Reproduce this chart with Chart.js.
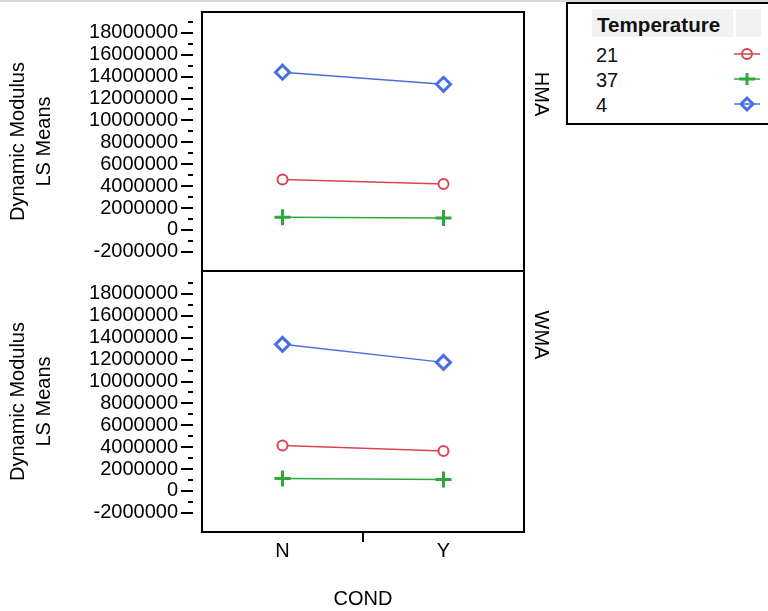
<!DOCTYPE html>
<html>
<head>
<meta charset="utf-8">
<script src="https://cdn.jsdelivr.net/npm/chart.js@4.4.1/dist/chart.umd.min.js"></script>
<style>
body { margin: 0; width: 768px; height: 611px; overflow: hidden; background: #fff; position: relative; }
canvas { position: absolute; left: 0; top: 0; }
#topline { position: absolute; left: 0; top: 0; width: 768px; height: 2px; background: #d9d9d9; }
#leg { position: absolute; left: 560px; top: 0; }
</style>
</head>
<body>
<div id="topline"></div>
<canvas id="c1" width="768" height="611"></canvas>
<canvas id="c2" width="768" height="611"></canvas>
<svg id="leg" width="208" height="130" font-family="Liberation Sans, Arial, sans-serif" font-size="20"></svg>
<script>
// data
var conds = ['N', 'Y'];
var temps = ['21', '37', '4'];
var hma21 = [4600000, 4200000];
var hma37 = [1150000, 1100000];
var hma4 = [14400000, 13300000];
var wma21 = [4150000, 3650000];
var wma37 = [1150000, 1050000];
var wma4 = [13400000, 11750000];
var yTicks = [-2000000, 0, 2000000, 4000000, 6000000, 8000000, 10000000, 12000000, 14000000, 16000000, 18000000];

var colors = ['#d94452', '#2fa83a', '#4a6ee0'];
var styles = ['circle', 'cross', 'rectRot'];
var radii = [5, 8, 7];
var widths = [2, 3, 3];

Chart.defaults.font.family = '"Liberation Sans", Arial, sans-serif';
Chart.defaults.font.size = 20;
Chart.defaults.color = '#000';

function makeSets(series) {
  var out = [];
  for (var i = 0; i < series.length; i++) {
    out.push({
      label: temps[i],
      data: series[i],
      borderColor: colors[i],
      borderWidth: 1.5,
      pointStyle: styles[i],
      pointRadius: radii[i],
      pointHoverRadius: radii[i],
      pointBorderWidth: widths[i],
      pointBorderColor: colors[i],
      pointBackgroundColor: '#fff',
      fill: false,
      tension: 0
    });
  }
  return out;
}

var panelDeco = {
  id: 'panelDeco',
  afterDraw: function(chart) {
    var ctx = chart.ctx, a = chart.chartArea, ys = chart.scales.y;
    var o = chart.options.plugins.panelDeco;
    ctx.save();
    ctx.strokeStyle = '#000';
    ctx.lineWidth = 2;
    ctx.strokeRect(a.left, a.top, a.right - a.left, a.bottom - a.top);
    // major and minor ticks, set off from the frame
    ctx.beginPath();
    for (var i = 0; i < ys.ticks.length; i++) {
      var v = ys.ticks[i].value;
      var p = Math.round(ys.getPixelForValue(v));
      ctx.moveTo(a.left - 21, p);
      ctx.lineTo(a.left - 9, p);
      var m = v + 1000000;
      if (m <= ys.max) {
        var pm = Math.round(ys.getPixelForValue(m));
        ctx.moveTo(a.left - 14, pm);
        ctx.lineTo(a.left - 9, pm);
      }
    }
    ctx.stroke();
    if (o.midTick) {
      var xs = chart.scales.x;
      var mx = Math.round((xs.getPixelForValue(0) + xs.getPixelForValue(1)) / 2);
      ctx.beginPath();
      ctx.moveTo(mx, a.bottom);
      ctx.lineTo(mx, a.bottom + 10);
      ctx.stroke();
    }
    // strip label
    ctx.fillStyle = '#000';
    ctx.font = '20px "Liberation Sans", Arial, sans-serif';
    ctx.textAlign = 'center';
    ctx.textBaseline = 'middle';
    ctx.translate(a.right + 17, a.top + o.stripY);
    ctx.rotate(Math.PI / 2);
    ctx.fillText(o.strip, 0, 0);
    ctx.restore();
  }
};

function makeChart(id, series, strip, opts) {
  return new Chart(document.getElementById(id), {
    type: 'line',
    data: { labels: conds, datasets: makeSets(series) },
    options: {
      responsive: false,
      animation: false,
      layout: { padding: opts.padding },
      plugins: {
        legend: { display: false },
        tooltip: { enabled: false },
        panelDeco: { strip: strip, stripY: opts.stripY, midTick: opts.showX }
      },
      scales: {
        x: {
          type: 'category',
          display: opts.showX,
          offset: true,
          grid: { display: false, drawTicks: false },
          border: { display: false },
          ticks: { padding: 7, color: '#000' },
          title: { display: true, text: 'COND', color: '#000', padding: 0 },
          afterFit: function(s) {
            s.height = opts.showX ? 79 : 0;
            s.paddingLeft = 0;
            s.paddingRight = 0;
          }
        },
        y: {
          type: 'linear',
          min: opts.min,
          max: opts.max,
          grid: { display: false, drawTicks: false, tickLength: 0 },
          border: { display: false },
          afterBuildTicks: function(s) {
            s.ticks = yTicks.map(function(v) { return { value: v }; });
          },
          ticks: {
            autoSkip: false,
            padding: 24,
            color: '#000',
            callback: function(v) { return String(v); }
          },
          title: {
            display: true,
            text: ['Dynamic Modulus', 'LS Means'],
            color: '#000',
            font: { size: 20, lineHeight: 1.3 },
            padding: { top: 5, bottom: 0 }
          },
          afterFit: function(s) { s.width = 202; s.paddingTop = 0; s.paddingBottom = 0; }
        }
      }
    },
    plugins: [panelDeco]
  });
}

makeChart('c1', [hma21, hma37, hma4], 'HMA', {
  padding: { top: 12, left: 0, right: 244, bottom: 340 },
  min: -3750000, max: 19900000, stripY: 82, showX: false
});
makeChart('c2', [wma21, wma37, wma4], 'WMA', {
  padding: { top: 271, left: 0, right: 244, bottom: 0 },
  min: -3750000, max: 20100000, stripY: 64, showX: true
});

// legend box
var svg = document.getElementById('leg');
var ns = 'http://www.w3.org/2000/svg';
function el(tag, attrs, txt) {
  var e = document.createElementNS(ns, tag);
  for (var k in attrs) e.setAttribute(k, attrs[k]);
  if (txt) e.textContent = txt;
  svg.appendChild(e);
  return e;
}
el('rect', { x: 7, y: 3, width: 230, height: 121, fill: '#fff', stroke: '#000', 'stroke-width': 2 });
el('rect', { x: 32, y: 9, width: 141, height: 28, fill: '#f2f2f2' });
el('rect', { x: 176, y: 9, width: 25, height: 28, fill: '#f2f2f2' });
el('text', { x: 37, y: 32, 'font-weight': 'bold', 'font-size': 20.6, fill: '#111' }, 'Temperature');
var rowY = [54, 79, 104];
for (var i = 0; i < temps.length; i++) {
  var cy = rowY[i];
  el('text', { x: 36, y: cy + 8, fill: '#111' }, temps[i]);
  el('line', { x1: 174, y1: cy, x2: 200, y2: cy, stroke: colors[i], 'stroke-width': 1.5 });
  if (styles[i] === 'circle') {
    el('circle', { cx: 187, cy: cy, r: 5, fill: 'none', stroke: colors[i], 'stroke-width': 2 });
  } else if (styles[i] === 'cross') {
    el('path', { d: 'M179 ' + cy + 'H195M187 ' + (cy - 6) + 'V' + (cy + 6), stroke: colors[i], 'stroke-width': 3, fill: 'none' });
  } else {
    el('path', { d: 'M181 ' + cy + 'L187 ' + (cy - 6) + 'L193 ' + cy + 'L187 ' + (cy + 6) + 'Z', stroke: colors[i], 'stroke-width': 3, fill: 'none' });
  }
}
</script>
</body>
</html>
